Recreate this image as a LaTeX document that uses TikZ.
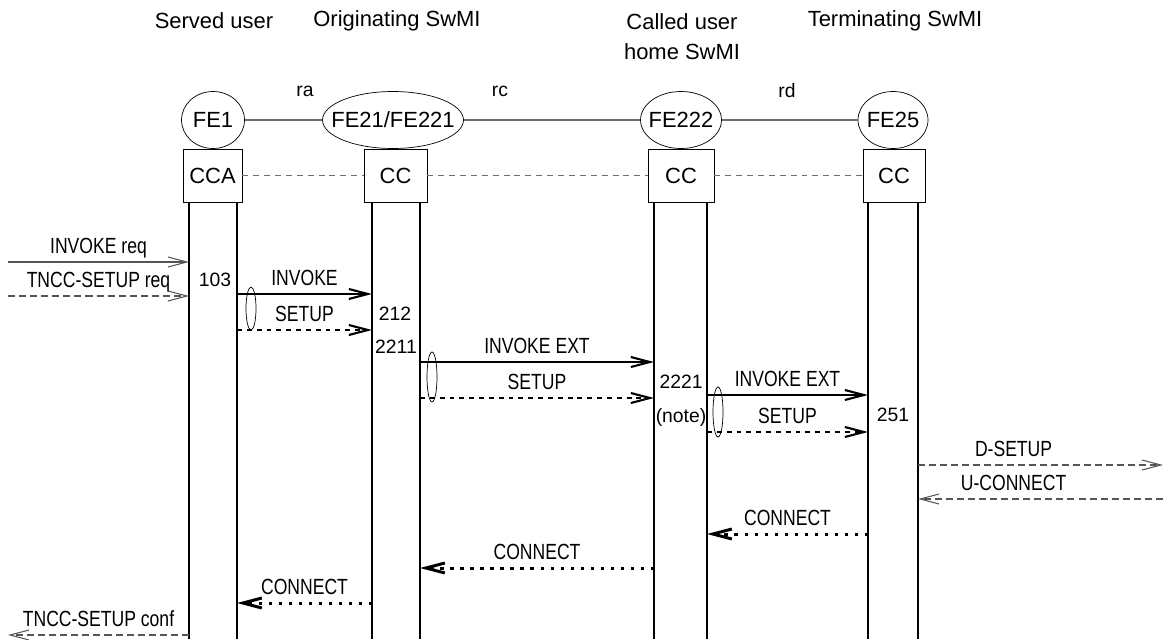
\documentclass[tikz,border=0pt]{standalone}
\usepackage{fontspec}
\setmainfont{Liberation Sans}
\newfontfamily\msgfont{Liberation Sans}[FakeStretch=0.8]
\usepackage{tikz}
\usetikzlibrary{arrows.meta, shapes.geometric, calc}

\definecolor{linkgray}{RGB}{110, 110, 110}
\definecolor{msggray}{RGB}{85, 85, 85}

\tikzset{
  fe/.style={draw, ellipse, inner xsep=-0.3cm, inner ysep=0pt, minimum height=1.14cm, font=\fontsize{12.5}{14}\selectfont},
  fabox/.style={draw, rectangle, minimum height=1.06cm, font=\fontsize{12.5}{14}\selectfont},
  link/.style={linkgray, line width=0.8pt},
  assoc/.style={linkgray, line width=0.8pt, dash pattern=on 3.4pt off 2.8pt},
  life/.style={black, line width=0.6pt},
  tip/.style={-{Straight Barb[length=0.38cm, width=0.2cm]}},
  req/.style={tip, msggray, line width=0.6pt},
  reqd/.style={req, dash pattern=on 4pt off 2.3pt},
  inv/.style={tip, black, line width=1.2pt},
  setd/.style={inv, dash pattern=on 2.8pt off 2.8pt},
  con/.style={tip, black, line width=1.7pt, dash pattern=on 1.9pt off 3.8pt},
  msglabel/.style={midway, anchor=base, yshift=0.17cm, inner sep=0pt, text=black, font=\msgfont\fontsize{12.5}{14}\selectfont},
  num/.style={font=\fontsize{11}{13}\selectfont},
  group/.style={draw, black, line width=0.4pt}
}

\begin{document}
\begin{tikzpicture}[x=0.02cm, y=-0.02cm, font=\fontsize{12.5}{14}\selectfont]
  \useasboundingbox (0,0) rectangle (1165,639);

  % Titles
  \node (t1) at (214,21) {Served user};
  \node (t2) at (397,21) {Originating SwMI};
  \node[align=center] (t3) at (682,37) {Called user\\[3pt]home SwMI};
  \node (t4) at (895,21) {Terminating SwMI};

  % Functional entities
  \node[fe, minimum width=1.26cm] (fe1) at (213,120) {FE1};
  \node[fe, minimum width=2.82cm] (fe21) at (393,120) {FE21/FE221};
  \node[fe, minimum width=1.62cm] (fe222) at (681,120) {FE222};
  \node[fe, minimum width=1.40cm] (fe25) at (893,120) {FE25};

  \draw[link] (fe1) -- (fe21);
  \draw[link] (fe21) -- (fe222);
  \draw[link] (fe222) -- (fe25);

  \node[num] (ra) at (305,91) {ra};
  \node[num] (rc) at (500,91) {rc};
  \node[num] (rd) at (787,91) {rd};

  % Call control boxes
  \node[fabox, minimum width=1.18cm] (cca) at (212.5,175.5) {CCA};
  \node[fabox, minimum width=1.26cm] (cc21) at (395.5,175.5) {CC};
  \node[fabox, minimum width=1.32cm] (cc222) at (681,175.5) {CC};
  \node[fabox, minimum width=1.24cm] (cc25) at (894,175.5) {CC};

  \draw[assoc] (cca) -- (cc21);
  \draw[assoc] (cc21) -- (cc222);
  \draw[assoc] (cc222) -- (cc25);

  % Lifelines
  \coordinate (fe1l) at (189,202);
  \coordinate (fe1r) at (237,202);
  \coordinate (fe21l) at (372,202);
  \coordinate (fe21r) at (420,202);
  \coordinate (fe222l) at (654,202);
  \coordinate (fe222r) at (707,202);
  \coordinate (fe25l) at (868,202);
  \coordinate (fe25r) at (918,202);
  \coordinate (userl) at (8,0);
  \coordinate (userr) at (1163,0);

  \foreach \l in {fe1l, fe1r, fe21l, fe21r, fe222l, fe222r, fe25l, fe25r}
    \draw[life] (\l) -- (\l |- 0,639);

  % Requests from the served user
  \draw[req] (userl |- 0,262) -- (fe1l |- 0,262) node[msglabel] {INVOKE req};
  \draw[reqd] (userl |- 0,296) -- (fe1l |- 0,296) node[msglabel] {TNCC-SETUP req};
  \node[num] (n103) at (215,280) {103};

  % FE1 -> FE21
  \draw[inv] (fe1r |- 0,294) -- (fe21l |- 0,294) node[msglabel] {INVOKE};
  \draw[setd] (fe1r |- 0,330) -- (fe21l |- 0,330) node[msglabel] {SETUP};
  \draw[group] (251,308.5) ellipse (5 and 21.5);
  \node[num] (n212) at (395,314) {212};
  \node[num] (n2211) at (396,347) {2211};

  % FE21 -> FE222
  \draw[inv] (fe21r |- 0,362) -- (fe222l |- 0,362) node[msglabel] {INVOKE EXT};
  \draw[setd] (fe21r |- 0,398) -- (fe222l |- 0,398) node[msglabel] {SETUP};
  \draw[group] (432,377) ellipse (5 and 25);
  \node[num] (n2221) at (681,382) {2221};
  \node[num] (note) at (681,417) {(note)};

  % FE222 -> FE25
  \draw[inv] (fe222r |- 0,395) -- (fe25l |- 0,395) node[msglabel] {INVOKE EXT};
  \draw[setd] (fe222r |- 0,432) -- (fe25l |- 0,432) node[msglabel] {SETUP};
  \draw[group] (718,412) ellipse (5 and 25);
  \node[num] (n251) at (893,415) {251};

  % Called user side
  \draw[reqd] (fe25r |- 0,465) -- (userr |- 0,465) node[msglabel, pos=0.39] {D-SETUP};
  \draw[reqd] (userr |- 0,499) -- (fe25r |- 0,499) node[msglabel, pos=0.61] {U-CONNECT};

  % Connect back
  \draw[con] (fe25l |- 0,534) -- (fe222r |- 0,534) node[msglabel] {CONNECT};
  \draw[con] (fe222l |- 0,568) -- (fe21r |- 0,568) node[msglabel] {CONNECT};
  \draw[con] (fe21l |- 0,603) -- (fe1r |- 0,603) node[msglabel] {CONNECT};
  \draw[reqd] (fe1l |- 0,635) -- (userl |- 0,635) node[msglabel] {TNCC-SETUP conf};
\end{tikzpicture}
\end{document}
